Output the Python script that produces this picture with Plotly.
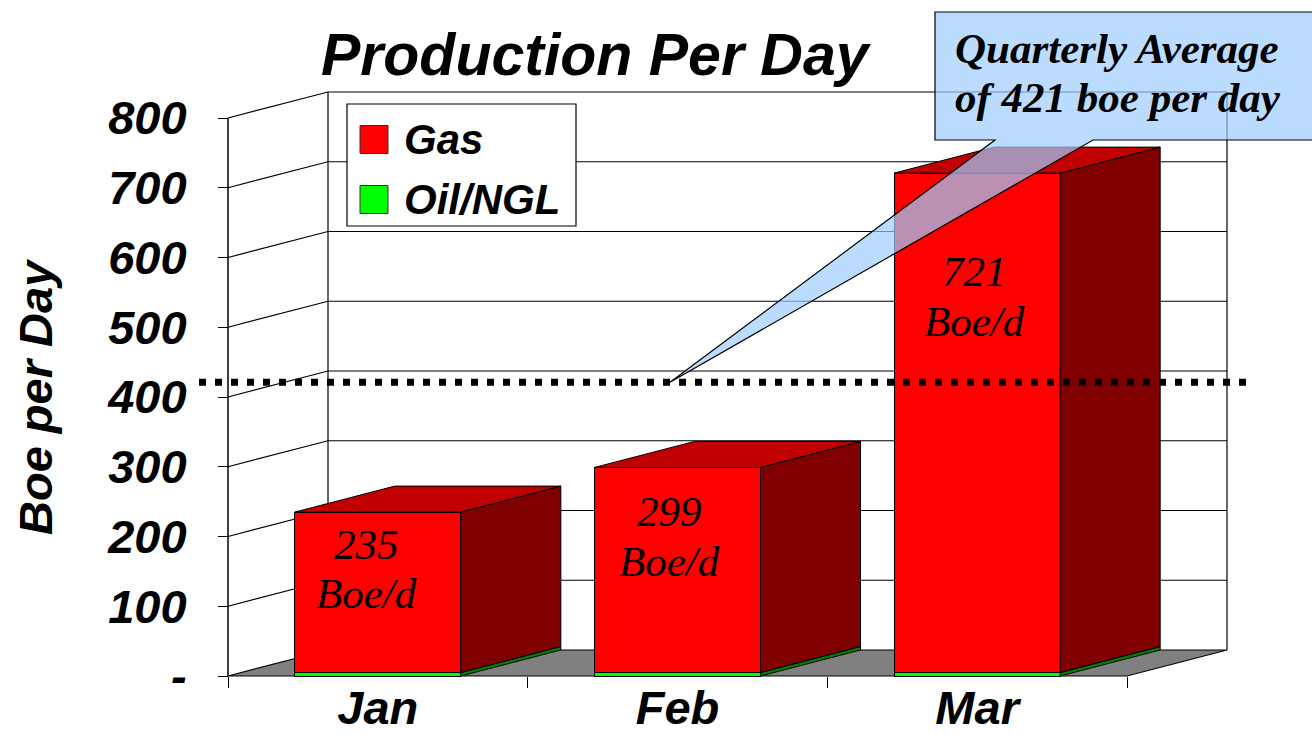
import plotly.graph_objects as go

# ---------------- data ----------------
months = ["Jan", "Feb", "Mar"]
series_names = ["Gas", "Oil/NGL"]
gas = [230, 294, 716]
oil_ngl = [5, 5, 5]
quarterly_avg = 421
y_tick_vals = [0, 100, 200, 300, 400, 500, 600, 700, 800]
y_tick_text = ["-", "100", "200", "300", "400", "500", "600", "700", "800"]
title_text = "Production Per Day"
y_title_text = "Boe per Day"
unit_text = "Boe/d"
callout_lines = ["Quarterly Average", "of %d boe per day" % quarterly_avg]

totals = [g + o for g, o in zip(gas, oil_ngl)]

# ---------------- geometry (pixel frame of the front plane) ----------------
W, H = 1312, 735
X0_PX, X3_PX = 228, 1127          # front x-extent (category edges -0.5 .. 2.5)
Y0_PX, YTOP_PX = 676, 118         # pixel rows of value 0 and value 800
YMAX = 800
SX = (X3_PX - X0_PX) / 3.0
SY = (Y0_PX - YTOP_PX) / float(YMAX)
x_range = [-0.5 - X0_PX / SX, -0.5 + (W - X0_PX) / SX]
y_range = [-(H - Y0_PX) / SY, Y0_PX / SY]

DX = 100 / SX      # depth offset (data units)
DY = 26 / SY
HW = 83 / SX       # half bar width
XL, XR = -0.5, 2.5


def px_x(p):
    return -0.5 + (p - X0_PX) / SX


def px_y(p):
    return (Y0_PX - p) / SY


def pap_x(p):
    return p / W


def pap_y(p):
    return 1 - p / H


SANS = "Liberation Sans, Arial, sans-serif"
SERIF = "Liberation Serif, Times New Roman, serif"

RED, RED_SIDE, RED_TOP = "#FF0000", "#800000", "#C00000"
GRN, GRN_SIDE = "#00FF00", "#008000"


def poly_path(pts):
    return "M " + " L ".join("%f,%f" % p for p in pts) + " Z"


def line_path(pts):
    return "M " + " L ".join("%f,%f" % p for p in pts)


fig = go.Figure()

shapes = []
# floor
shapes.append(dict(type="path", xref="x", yref="y", layer="below",
                   path=poly_path([(XL, 0), (XR, 0), (XR + DX, DY), (XL + DX, DY)]),
                   fillcolor="#808080", line=dict(color="black", width=1.2)))
# back wall gridlines
for v in y_tick_vals[1:]:
    shapes.append(dict(type="path", xref="x", yref="y", layer="below",
                       path=line_path([(XL, v), (XL + DX, v + DY), (XR + DX, v + DY)]),
                       line=dict(color="black", width=1.2)))
# back wall vertical edges
for xe in (XL + DX, XR + DX):
    shapes.append(dict(type="path", xref="x", yref="y", layer="below",
                       path=line_path([(xe, DY), (xe, YMAX + DY)]),
                       line=dict(color="black", width=1.2)))
# front value axis line
shapes.append(dict(type="path", xref="x", yref="y", layer="below",
                   path=line_path([(XL, 0), (XL, YMAX)]),
                   line=dict(color="black", width=1.5)))

# ---------------- bars (front faces) ----------------
fig.add_trace(go.Bar(x=[0, 1, 2], y=oil_ngl, width=2 * HW, name=series_names[1],
                     marker=dict(color=GRN, line=dict(color="black", width=1)),
                     showlegend=False, hoverinfo="skip"))
fig.add_trace(go.Bar(x=[0, 1, 2], y=gas, width=2 * HW, name=series_names[0],
                     marker=dict(color=RED, line=dict(color="black", width=1)),
                     showlegend=False, hoverinfo="skip"))

# side and top faces
for i in range(len(months)):
    xr = i + HW
    xl = i - HW
    segs = [(0, oil_ngl[i], GRN_SIDE), (oil_ngl[i], totals[i], RED_SIDE)]
    for lo, hi, col in segs:
        pts = [(xr, lo), (xr + DX, lo + DY), (xr + DX, hi + DY), (xr, hi), (xr, lo)]
        fig.add_trace(go.Scatter(x=[p[0] for p in pts], y=[p[1] for p in pts],
                                 fill="toself", fillcolor=col, mode="lines",
                                 line=dict(color="black", width=1),
                                 hoverinfo="skip", showlegend=False))
    top = totals[i]
    pts = [(xl, top), (xr, top), (xr + DX, top + DY), (xl + DX, top + DY), (xl, top)]
    fig.add_trace(go.Scatter(x=[p[0] for p in pts], y=[p[1] for p in pts],
                             fill="toself", fillcolor=RED_TOP, mode="lines",
                             line=dict(color="black", width=1),
                             hoverinfo="skip", showlegend=False))

# quarterly average dotted line
fig.add_trace(go.Scatter(x=[px_x(199), px_x(1250)], y=[quarterly_avg, quarterly_avg],
                         mode="lines", line=dict(color="black", width=7, dash="7px,9px"),
                         hoverinfo="skip", showlegend=False))

# callout box with pointer
bx0, bx1 = px_x(935), px_x(1345)
by0, by1 = px_y(12), px_y(140)
pb0, pb1 = px_x(995), px_x(1093)
tipx = px_x(670)
shapes.append(dict(type="path", xref="x", yref="y", layer="above",
                   path=poly_path([(bx0, by0), (bx1, by0), (bx1, by1), (pb1, by1),
                                   (tipx, quarterly_avg), (pb0, by1), (bx0, by1)]),
                   fillcolor="rgba(160,205,255,0.7)", line=dict(color="black", width=1.2)))

# legend (drawn manually to match the large swatches)
shapes.append(dict(type="rect", xref="paper", yref="paper", layer="above",
                   x0=pap_x(347), x1=pap_x(576), y0=pap_y(226), y1=pap_y(104),
                   fillcolor="white", line=dict(color="black", width=1.2)))
legend_cols = [RED, GRN]
legend_rows = [139.5, 199.5]
annotations = []
for name, col, cy in zip(series_names, legend_cols, legend_rows):
    shapes.append(dict(type="rect", xref="paper", yref="paper", layer="above",
                       x0=pap_x(360), x1=pap_x(388), y0=pap_y(cy + 14), y1=pap_y(cy - 14),
                       fillcolor=col, line=dict(color="#333333", width=1)))
    annotations.append(dict(text=name, xref="paper", yref="paper", x=pap_x(402), y=pap_y(cy),
                            xanchor="left", yanchor="middle", showarrow=False,
                            font=dict(family=SANS, size=42, color="black",
                                      weight="bold", style="italic")))

# bar value labels
label_x_px = [366, 670, 974]
label_y_px = [(544, 593), (512, 561), (272, 321)]
for i in range(len(months)):
    for txt, py in zip([str(totals[i]), unit_text], label_y_px[i]):
        annotations.append(dict(text=txt, xref="paper", yref="paper",
                                x=pap_x(label_x_px[i]), y=pap_y(py),
                                xanchor="center", yanchor="middle", showarrow=False,
                                font=dict(family=SERIF, size=43, color="black",
                                          style="italic")))

# callout text
for txt, py in zip(callout_lines, [48, 97]):
    annotations.append(dict(text=txt, xref="paper", yref="paper", x=pap_x(953), y=pap_y(py),
                            xanchor="left", yanchor="middle", showarrow=False,
                            font=dict(family=SERIF, size=43, color="black",
                                      weight="bold", style="italic")))

# title
annotations.append(dict(text=title_text, xref="paper", yref="paper", x=pap_x(596), y=pap_y(55),
                        xanchor="center", yanchor="middle", showarrow=False,
                        font=dict(family=SANS, size=59, color="black",
                                  weight="bold", style="italic")))
# value axis title
annotations.append(dict(text=y_title_text, xref="paper", yref="paper", x=pap_x(35), y=pap_y(397),
                        xanchor="center", yanchor="middle", showarrow=False, textangle=-90,
                        font=dict(family=SANS, size=47, color="black",
                                  weight="bold", style="italic")))

fig.update_layout(
    width=W, height=H,
    autosize=False,
    margin=dict(l=0, r=0, t=0, b=0, pad=0, autoexpand=False),
    paper_bgcolor="white", plot_bgcolor="rgba(0,0,0,0)",
    barmode="stack",
    showlegend=False,
    hovermode=False,
    shapes=shapes,
    annotations=annotations,
    xaxis=dict(range=x_range, anchor="free", position=(H - Y0_PX) / H, automargin=False,
               showgrid=False, zeroline=False, showline=False,
               tickmode="array", tickvals=[0, 1, 2], ticktext=months, ticks="",
               ticklabelstandoff=0,
               tickfont=dict(family=SANS, size=47, color="black", weight="bold", style="italic"),
               minor=dict(tickmode="array", tickvals=[XL, 0.5, 1.5, XR], ticks="outside",
                          ticklen=11, tickcolor="black", tickwidth=1.2, showgrid=False),
               fixedrange=True),
    yaxis=dict(range=y_range, anchor="free", position=X0_PX / W, automargin=False,
               showgrid=False, zeroline=False, showline=False,
               tickmode="array", tickvals=y_tick_vals, ticktext=y_tick_text,
               ticks="outside", ticklen=10, tickcolor="black", tickwidth=1.2,
               ticklabelstandoff=22,
               tickfont=dict(family=SANS, size=47, color="black", weight="bold", style="italic"),
               fixedrange=True),
)

fig.write_html("out.html", config={"displayModeBar": False},
               post_script="document.documentElement.style.margin='0';document.body.style.margin='0';")
